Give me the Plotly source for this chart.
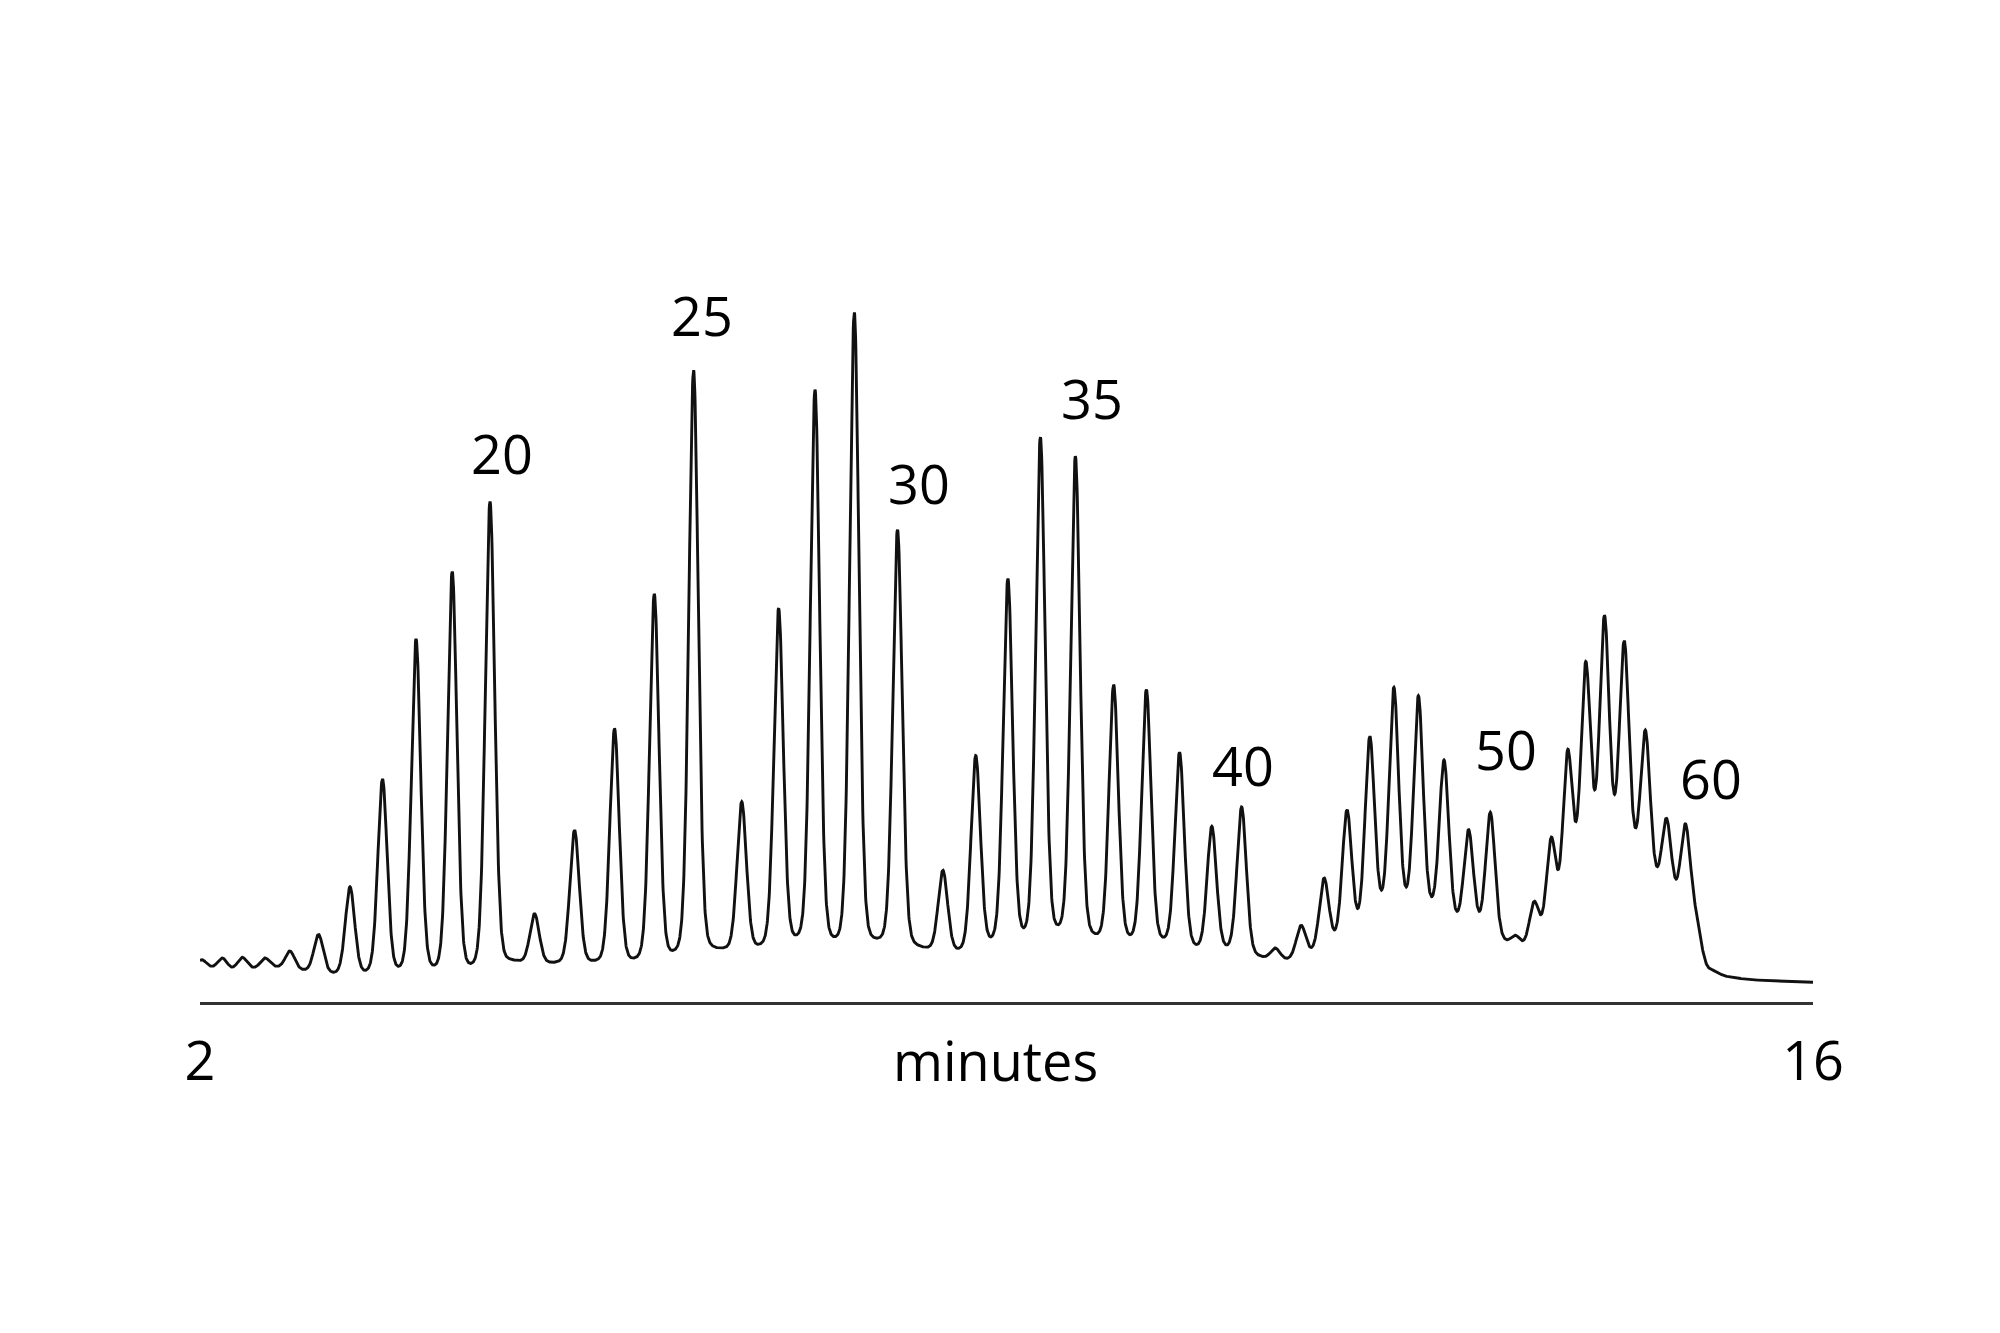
import numpy as np
import plotly.graph_objects as go

# ---- data ----------------------------------------------------------------
# apex retention times (minutes) of the ladder peaks, oligomer lengths 10..60
peak_time = [2.015, 2.194, 2.367, 2.564, 2.781, 3.029, 3.302, 3.584, 3.875, 4.189,
             4.517, 4.904, 5.251, 5.598, 5.943, 6.284, 6.702, 7.022, 7.338, 7.679,
             8.054, 8.448, 8.733, 9.012, 9.294, 9.598, 9.930, 10.214, 10.502, 10.782,
             11.041, 11.333, 11.556, 11.756, 11.955, 12.153, 12.362, 12.575, 12.798, 13.011,
             13.200, 13.419, 13.580, 13.728, 13.870, 14.027, 14.190, 14.362, 14.546, 14.729,
             14.893]
# apex signal (a.u.)
peak_height = [4.23, 4.40, 4.47, 4.40, 5.10, 6.75, 11.52, 22.30, 36.30, 43.06,
               50.05, 8.83, 17.20, 27.33, 40.80, 63.20, 20.02, 39.37, 61.23, 68.97,
               47.25, 13.17, 24.64, 42.34, 56.50, 54.56, 31.72, 31.25, 24.97, 17.56,
               19.50, 5.40, 7.67, 12.40, 19.23, 26.57, 31.47, 30.63, 24.20, 17.23,
               18.97, 6.67, 10.07, 16.47, 25.23, 34.05, 38.67, 36.13, 27.17, 18.37,
               17.82]
# valley / baseline points of the trace (minutes, a.u.)
valley_time = [2.102, 2.275, 2.463, 2.668, 2.940, 3.172, 3.423, 3.732, 4.043, 4.369,
               4.725, 5.066, 5.438, 5.779, 6.135, 6.525, 6.851, 7.202, 7.549, 7.920,
               8.311, 8.602, 8.882, 9.176, 9.480, 9.812, 10.097, 10.384, 10.673, 10.925,
               11.248, 11.443, 11.649, 11.851, 12.053, 12.259, 12.479, 12.702, 12.914, 13.104,
               13.341, 13.478, 13.625, 13.787, 13.945, 14.107, 14.285, 14.472, 14.651, 14.813,
               14.990, 15.062, 15.123, 15.219, 15.454, 16.000]
valley_height = [3.57, 3.50, 3.47, 3.57, 3.50, 3.00, 3.20, 3.60, 3.74, 3.97,
                 4.20, 3.97, 4.20, 4.44, 5.40, 5.40, 5.77, 7.04, 7.13, 6.71,
                 5.48, 5.48, 6.71, 8.12, 8.46, 7.18, 7.04, 6.66, 5.95, 5.80,
                 4.57, 4.40, 5.47, 7.23, 9.40, 11.23, 11.73, 10.73, 9.07, 9.07,
                 6.23, 6.13, 8.90, 13.23, 18.10, 21.23, 21.02, 17.77, 13.54, 12.30,
                 8.73, 4.23, 3.23, 2.67, 2.23, 1.97]
first_oligomer = 10
labelled_oligomers = [20, 25, 30, 35, 40, 50, 60]
tick_values = [2, 16]
tick_labels = ["2", "16"]
x_title = "minutes"

# ---- peak model (pseudo-Voigt) --------------------------------------------
FWHM = 0.096   # minutes
ETA = 0.2
BASE_SMOOTH = 0.03  # minutes, smoothing of the background through the valleys


def peak_shape(t, c):
    d = (t - c) / (FWHM / 2.0)
    return ETA / (1.0 + d * d) + (1.0 - ETA) * np.exp(-np.log(2.0) * d * d)


pk_t = np.array(peak_time)
vl_t = np.array(valley_time)
n_pk, n_vl = len(pk_t), len(vl_t)

# smoothed piecewise-linear background basis on a fine grid
grid = np.arange(1.8, 16.2 + 1e-9, 0.0025)
step = grid[1] - grid[0]
kx = np.arange(-4 * BASE_SMOOTH, 4 * BASE_SMOOTH + 1e-12, step)
kern = np.exp(-0.5 * (kx / BASE_SMOOTH) ** 2)
kern /= kern.sum()
pad = len(kx) // 2
grid_basis = np.zeros((len(grid), n_vl))
for k in range(n_vl):
    e = np.zeros(n_vl)
    e[k] = 1.0
    col = np.interp(grid, vl_t, e)
    colp = np.concatenate([np.full(pad, col[0]), col, np.full(pad, col[-1])])
    grid_basis[:, k] = np.convolve(colp, kern, mode="valid")


def baseline_basis(t):
    t = np.atleast_1d(t)
    return np.column_stack([np.interp(t, grid, grid_basis[:, k]) for k in range(n_vl)])


def design(t):
    t = np.atleast_1d(t)
    return np.hstack([peak_shape(t[:, None], pk_t[None, :]), baseline_basis(t)])


pts = np.concatenate([pk_t, vl_t])
vals = np.concatenate([peak_height, valley_height])
coef = np.linalg.solve(design(pts), vals)

t_trace = np.linspace(2.0, 16.0, 5601)
signal = design(t_trace) @ coef

# ---- figure ---------------------------------------------------------------
FONT = "Open Sans"
fig = go.Figure()
fig.add_trace(go.Scatter(x=t_trace, y=signal, mode="lines",
                         line=dict(color="#111111", width=2.9),
                         hoverinfo="skip", showlegend=False))

label_dx = [12, 8, 21, 17, 1, 16, 26]
label_dy = [49, 55, 47, 58, 42, 63, 46]
for olig, dx, dy in zip(labelled_oligomers, label_dx, label_dy):
    i = olig - first_oligomer
    fig.add_annotation(x=peak_time[i], y=peak_height[i], xref="x", yref="y",
                       text=str(olig), showarrow=False, xanchor="center",
                       yanchor="middle", xshift=dx, yshift=dy,
                       font=dict(family=FONT, size=54, color="#000000"))

fig.add_annotation(x=0.4932, y=0, xref="paper", yref="paper", text=x_title,
                   showarrow=False, xanchor="center", yanchor="top", yshift=-19,
                   font=dict(family=FONT, size=54, color="#000000"))

fig.update_layout(
    width=2000, height=1333,
    margin=dict(l=192, r=195, t=123, b=339, pad=0),
    paper_bgcolor="white", plot_bgcolor="white",
    xaxis=dict(range=[2, 16], showline=True, linecolor="#333333", linewidth=2.8,
               showgrid=False, zeroline=False, tickmode="array",
               tickvals=tick_values, ticktext=tick_labels,
               ticks="outside", ticklen=10, tickcolor="rgba(0,0,0,0)",
               tickfont=dict(family=FONT, size=54, color="#000000")),
    yaxis=dict(range=[0, 87.1], visible=False, showgrid=False, zeroline=False),
)

fig.write_html("out.html")
